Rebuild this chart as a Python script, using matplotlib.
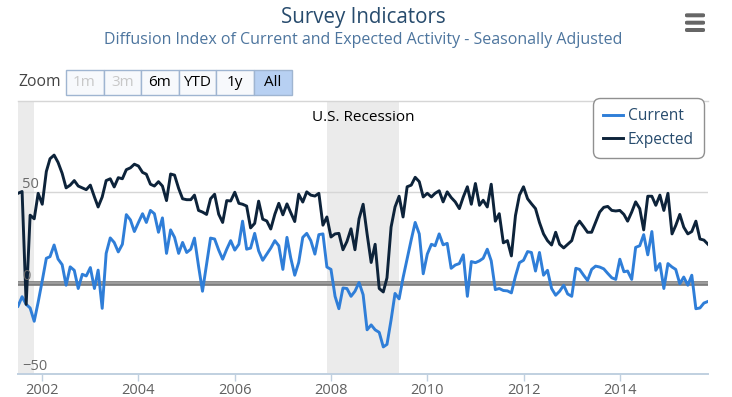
import matplotlib
matplotlib.use('Agg')
import matplotlib.pyplot as plt
import matplotlib.dates as mdates
import pandas as pd
from matplotlib.patches import Rectangle, FancyBboxPatch

W, H = 732, 397
FONT = 'Open Sans'
plt.rcParams['font.family'] = [FONT, 'DejaVu Sans']

# ---------------- data ----------------
start_month = '2001-07-01'
current = [-13, -7.8, -12, -14, -21.3, -10.8, 1, 13.3, 14.2, 20.6, 12.9, 9.8, -1.5, 8.6, 6.7, -3.3,
           4.5, 3.6, 8.2, -3.3, 6.8, -14.2, 16, 24.5, 22, 16.8, 21, 37.3, 34.4, 28, 33, 37.8,
           33, 39.6, 37.8, 27.6, 35.5, 16, 28.9, 24.8, 16, 22, 16.5, 18.3, 24.4, 9, -4.8, 10,
           24.4, 23.9, 17.8, 12.8, 18.3, 23, 17.8, 21, 33.7, 18.3, 18.9, 27, 17.4, 12.2, 15.6, 18.9,
           23, 20.2, 7.2, 24.8, 13.7, 4, 11, 24.8, 27, 23, 15.6, 26.3, 26.7, 8.5, 7.2, -7.6,
           -14.4, -3, -3.3, -7.6, -4.8, 0, -6.7, -26, -23.3, -26, -27.4, -35.4, -34, -20.6, -6, -9,
           2.6, 13, 23.5, 33, 26.7, 4.8, 15.6, 21, 20.2, 26.7, 20.7, 21.5, 7.8, 9.6, 10.4, 15.2,
           -7.6, 11.5, 10.9, 11.9, 13.3, 18.3, 11.9, -3.9, -3.3, -4.4, -4.6, -5.7, 3.5, 10.9, 12.2, 17,
           16.5, 6.3, 16.5, 4, 6.7, -3.3, -7, -4.8, -1.5, -6.3, -7.6, 7.8, 7.2, 4, 1.1, 7.2,
           9, 8.5, 7.5, 5, 2.6, 1.7, 12.8, 5.9, 6.3, 1.7, 19.3, 20.2, 26.3, 15.2, 28, 6.7,
           10.4, -3.3, 10.4, 8.5, 7.2, -0.7, 3, -1.5, 4, -14.4, -14, -11.3, -10.4]
expected = [49, 50, -12, 37, 35, 49, 43, 61, 68, 70, 66, 60, 52, 53.5, 56, 53,
            52, 51, 53.5, 47, 41.5, 47, 56, 57, 52.5, 57.6, 57, 62, 63, 65, 64, 60.5,
            59.5, 54, 53, 55.4, 53, 45, 59.6, 59, 51.7, 46, 45.5, 45.5, 48, 39.6, 38.7, 37.4,
            46, 48.5, 37.5, 33, 45, 44.8, 49.6, 43.5, 43, 42, 30, 32.5, 44.7, 34.8, 33.8, 29.4,
            37.5, 43.5, 37.2, 43.2, 38.5, 33.5, 48.5, 44.2, 49.8, 48, 47.5, 49, 31.5, 36, 25, 26.7,
            27, 18, 22.5, 29.5, 18, 35, 43, 26.7, 11, 21, -3.3, -5.2, 2.6, 30.4, 41.5, 47.4,
            36, 52.6, 53.5, 57.8, 55.4, 47, 49, 47, 49, 50.4, 44.3, 49.8, 46.7, 44.3, 40.6, 47,
            52.6, 43, 54.4, 42.4, 45.2, 41.5, 54, 33.7, 37.8, 21.8, 23, 14.6, 36.8, 48, 52.6, 46,
            43.3, 40.6, 33, 26.7, 23, 20.6, 27.6, 21, 19, 21, 23, 30.7, 33.7, 30.7, 27.6, 27.6,
            33, 38.7, 41.3, 41.8, 39.6, 39.3, 39.6, 37.4, 33.7, 38.7, 44.3, 40.6, 28.9, 47.4, 47.4, 42.4,
            48, 39.6, 49, 26.7, 31.3, 37.4, 30.4, 26.7, 28, 33.7, 23.9, 23.3, 21]
series_names = ['Current', 'Expected']
recession_starts = ['2001-03-01', '2007-12-01']
recession_ends = ['2001-11-01', '2009-06-01']
year_ticks = [2002, 2004, 2006, 2008, 2010, 2012, 2014]
y_labels = [-50, 0, 50]
zoom_buttons = ['1m', '3m', '6m', 'YTD', '1y', 'All']
title = 'Survey Indicators'
subtitle = 'Diffusion Index of Current and Expected Activity - Seasonally Adjusted'

dates = pd.date_range(start_month, periods=len(current), freq='MS')

# ---------------- figure ----------------
fig = plt.figure(figsize=(W / 100, H / 100), dpi=100)
fig.patch.set_facecolor('white')


def fx(px):
    return px / W


def fy(py):
    return 1 - py / H


PL, PR, PT, PB = 18, 708, 100.5, 373.5
ax = fig.add_axes([fx(PL), fy(PB), fx(PR) - fx(PL), fy(PT) - fy(PB)])
ax.set_facecolor('white')

# recession bands
for s, e in zip(recession_starts, recession_ends):
    ax.axvspan(pd.Timestamp(s), pd.Timestamp(e), color='#ebebeb', lw=0, zorder=0)

# grid lines
ax.axhline(50, color='#d6d6d6', lw=1.0, zorder=1)
ax.axhline(0, color='#7c7c7c', lw=3.4, zorder=1.5)
ax.axhline(0, color='#9c9c9c', lw=1.5, zorder=1.6)

lw = 2.1
ax.plot(dates, current, color='#2f7ed8', lw=lw, label=series_names[0], zorder=3,
        solid_joinstyle='round')
ax.plot(dates, expected, color='#0d233a', lw=lw, label=series_names[1], zorder=3,
        solid_joinstyle='round')

ax.set_xlim(dates[0], dates[-1])
ax.set_ylim(-50, 100)

for sp in ['left', 'right']:
    ax.spines[sp].set_visible(False)
ax.spines['top'].set_color('#d6d6d6')
ax.spines['top'].set_linewidth(1.0)
ax.spines['bottom'].set_color('#c0d0e0')
ax.spines['bottom'].set_linewidth(1.4)

ax.set_yticks([])
ax.set_xticks([pd.Timestamp(f'{y}-01-01') for y in year_ticks])
ax.xaxis.set_major_formatter(mdates.DateFormatter('%Y'))
ax.tick_params(axis='x', length=5, width=1, color='#c0d0e0', labelsize=10.5,
               labelcolor='#606060', pad=1.5)

for v in y_labels:
    lbl = str(v).replace('-', '\u2212')
    ax.annotate(lbl, xy=(0, v), xycoords=('axes fraction', 'data'), xytext=(4, -1),
                textcoords='offset pixels', ha='left', va='bottom', fontsize=10.5,
                color='#6a6a6a', zorder=4)

ax.text(0.5, 0.937, 'U.S. Recession', transform=ax.transAxes, ha='center', va='center',
        fontsize=11, color='#000000', zorder=4)

leg = ax.legend(loc='upper right', bbox_to_anchor=(fx(704), fy(98)), bbox_transform=fig.transFigure,
                borderaxespad=0, fontsize=11.2, frameon=True, fancybox=True, framealpha=1,
                edgecolor='#909090', handlelength=1.3, handletextpad=0.3, labelspacing=0.5,
                borderpad=0.65)
leg.get_frame().set_linewidth(1.0)
leg.get_frame().set_boxstyle('round', pad=0, rounding_size=0.45)
for t in leg.get_texts():
    t.set_color('#274b6d')
leg.set_zorder(10)

# titles
fig.text(fx(363), fy(18), title, ha='center', va='center', fontsize=14.8, color='#274b6d')
fig.text(fx(363), fy(40), subtitle, ha='center', va='center', fontsize=11.5, color='#4d759e')

# range selector
fig.text(fx(18), fy(82.5), 'Zoom', ha='left', va='center', fontsize=11.3, color='#444444')
edges = [65.5, 103.5, 141, 178.5, 216, 253.5, 291.5]
for i, name in enumerate(zoom_buttons):
    x0, x1 = edges[i], edges[i + 1]
    selected = name == 'All'
    disabled = name in ('1m', '3m')
    face = '#b7d0f2' if selected else '#f7f9fc'
    fig.patches.append(Rectangle((fx(x0), fy(94.5)), fx(x1) - fx(x0), fy(70) - fy(94.5),
                                 transform=fig.transFigure, facecolor=face,
                                 edgecolor='#9fb5d1', lw=1.0))
    fig.text(fx((x0 + x1) / 2), fy(82.5), name, ha='center', va='center', fontsize=11,
             color='#c8c8c8' if disabled else '#000000')

# menu icon
for yb in (13.3, 20.7, 28):
    fig.patches.append(FancyBboxPatch((fx(685), fy(yb + 4)), fx(20), fy(0) - fy(4),
                                      boxstyle='round,pad=0,rounding_size=0.003',
                                      transform=fig.transFigure, facecolor='#666666',
                                      edgecolor='none'))

fig.savefig('out.png', dpi=100, facecolor='white')
